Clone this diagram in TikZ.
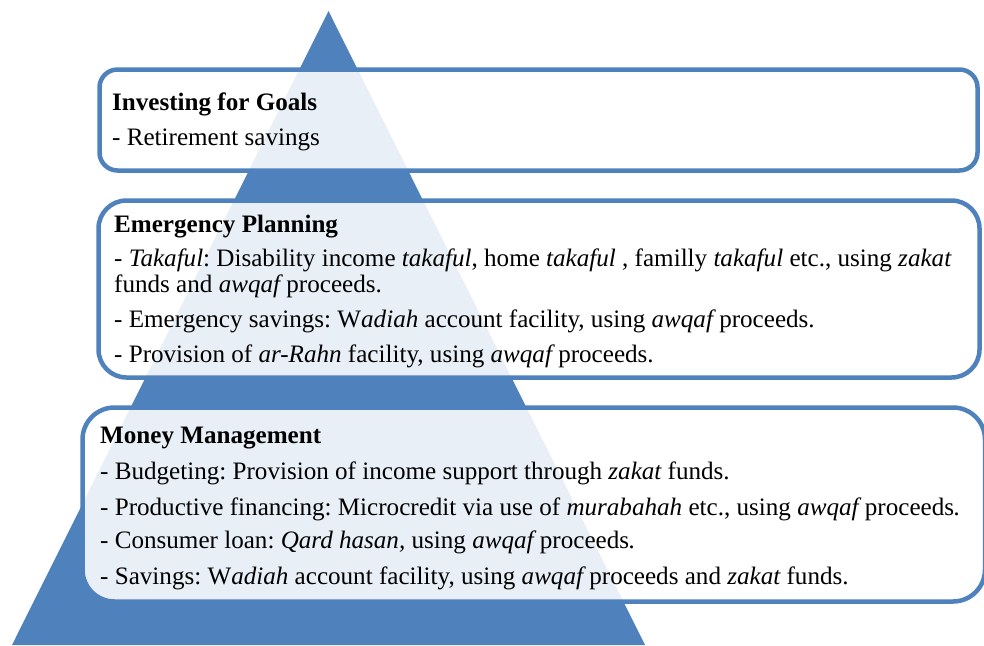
\documentclass[tikz,border=0pt]{standalone}
\usepackage{fontspec}
\setmainfont{Liberation Serif}
\definecolor{pblue}{HTML}{4F81BD}
\newcommand{\ital}[1]{{\itshape #1}}
\frenchspacing
\begin{document}
\begin{tikzpicture}[x=1pt,y=-1pt,
  box/.style={draw=pblue,line width=4.5pt,fill=white,fill opacity=0.875},
  txt/.style={anchor=base west,inner sep=0pt,font=\fontsize{25.1}{26}\selectfont}]
\useasboundingbox (0,0) rectangle (984,645);
\clip (0,0) rectangle (984,645);
% pyramid
\fill[pblue] (328.5,11) -- (645,645) -- (12,645) -- cycle;
% boxes
\draw[box,rounded corners=18pt] (99.5,69.5) rectangle (977.5,170.5);
\draw[box,rounded corners=28pt] (98.5,200.5) rectangle (979.5,377.5);
\draw[box,rounded corners=32pt] (82.5,407.5) rectangle (985,601.5);
% texts
\node[txt] (t1) at (112,110) {\textbf{Investing for Goals}};
\node[txt] (t2) at (112,145) {- Retirement savings};
\node[txt] (t3) at (114,232) {\textbf{Emergency Planning}};
\node[txt] (t4) at (114,266) {- \ital{Takaful}: Disability income \ital{takaful}, home \ital{takaful} , familly \ital{takaful} etc., using \ital{zakat}};
\node[txt] (t5) at (114,292) {funds and \ital{awqaf} proceeds.};
\node[txt] (t6) at (114,327) {- Emergency savings: W\ital{adiah} account facility, using \ital{awqaf} proceeds.};
\node[txt] (t7) at (114,362) {- Provision of \ital{ar-Rahn} facility, using \ital{awqaf} proceeds.};
\node[txt] (t8) at (100,443) {\textbf{Money Management}};
\node[txt] (t9) at (100,479) {- Budgeting: Provision of income support through \ital{zakat} funds.};
\node[txt] (t10) at (100,515) {- Productive financing: Microcredit via use of \ital{murabahah} etc., using \ital{awqaf} proceeds\ital{.}};
\node[txt] (t11) at (100,548) {- Consumer loan: \ital{Qard hasan,} using \ital{awqaf} proceeds\ital{.}};
\node[txt] (t12) at (100,584) {- Savings: W\ital{adiah} account facility, using \ital{awqaf} proceeds and \ital{zakat} funds.};
\end{tikzpicture}
\end{document}
